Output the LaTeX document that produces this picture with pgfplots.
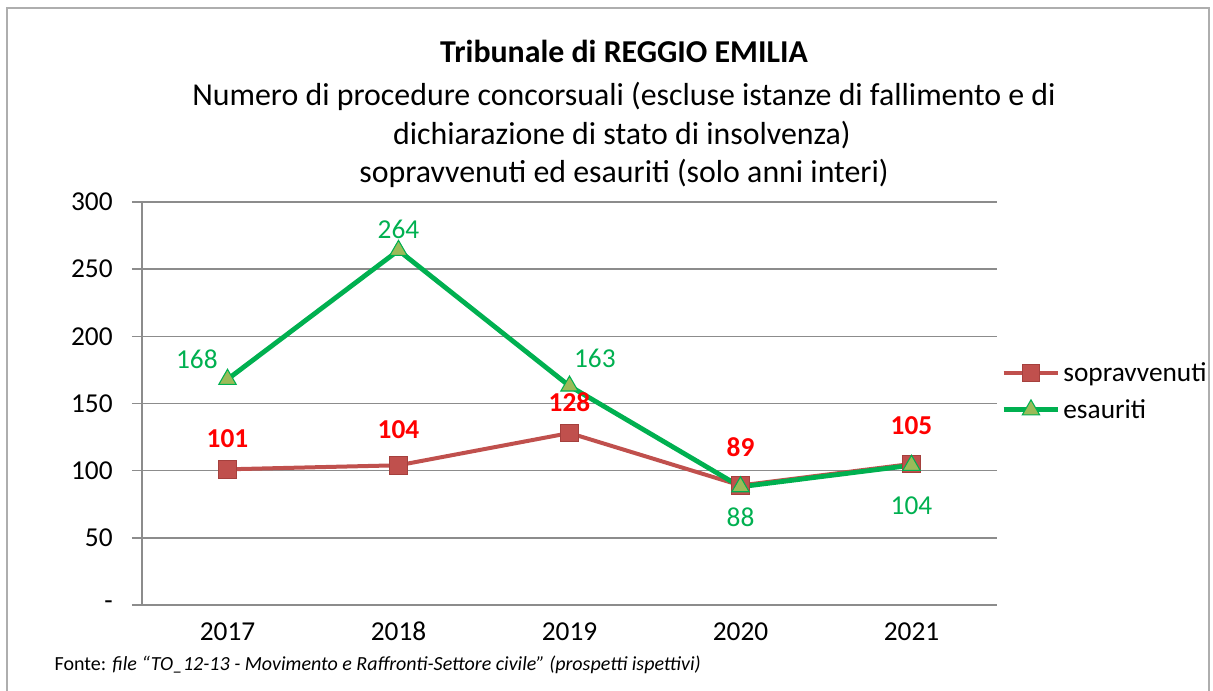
\documentclass[border=0pt]{standalone}
\usepackage{fontspec}
\setmainfont{Carlito}
\usepackage{pgfplots}
\pgfplotsset{compat=1.18}
\definecolor{sopr}{HTML}{C0504D}
\definecolor{soprdark}{HTML}{A5403D}
\definecolor{esau}{HTML}{00B050}
\definecolor{esaufill}{HTML}{9BBB59}
\definecolor{gridc}{HTML}{8C8C8C}
% coordinates in image pixels, y measured upwards from the bottom edge
\begin{document}
\begin{tikzpicture}[x=0.75pt,y=0.75pt]
\draw[gridc!70,line width=1pt] (7,0) -- (7,683) -- (1209,683) -- (1209,0);
% titles
\node[font=\fontsize{23.9}{28}\selectfont\bfseries] at (624,640) {Tribunale di REGGIO EMILIA};
\node[font=\fontsize{23.9}{28}\selectfont] at (624,595) {Numero di procedure concorsuali (escluse istanze di fallimento e di};
\node[font=\fontsize{23.9}{28}\selectfont] at (622,556) {dichiarazione di stato di insolvenza)};
\node[font=\fontsize{23.9}{28}\selectfont] at (624,518) {sopravvenuti ed esauriti (solo anni interi)};
\node[anchor=west,font=\fontsize{15}{18}\selectfont] at (50,26) {Fonte: \textit{file ``TO\_12-13 - Movimento e Raffronti-Settore civile'' (prospetti ispettivi)}};
\begin{axis}[
  at={(106.5pt,64.5pt)}, anchor=south west,
  scale only axis, width=641.25pt, height=302.25pt,
  xmin=-0.5, xmax=4.5, ymin=0, ymax=300,
  xtick={0,1,2,3,4},
  xticklabels={2017,2018,2019,2020,2021},
  extra x ticks={-0.5,0.5,1.5,2.5,3.5,4.5},
  extra x tick labels={},
  extra x tick style={major tick length=7.5pt, tick style={gridc, line width=1pt}},
  ytick={0,50,100,150,200,250,300},
  yticklabels={-,50,100,150,200,250,300},
  ymajorgrids,
  grid style={gridc, line width=1.1pt},
  axis x line*=bottom, axis y line*=left,
  axis line style={gridc, line width=1.1pt, -},
  x tick style={draw=none},
  y tick style={gridc, line width=1.1pt},
  tick align=outside, major tick length=7.5pt,
  /pgf/number format/assume math mode=true,
  tick label style={font=\fontsize{20.5}{24}\selectfont},
  xticklabel style={yshift=-8pt, text height=1.6ex, text depth=0pt},
  yticklabel style={xshift=-11pt},
  clip=false,
  legend style={at={(1.0,0.53)}, anchor=west, draw=none, fill=none,
    font=\fontsize{20.5}{24}\selectfont, row sep=8pt,
    legend cell align=left},
  legend image code/.code={\draw[mark repeat=2,mark phase=2] plot coordinates {(0cm,0cm) (0.72cm,0cm) (1.44cm,0cm)};},
]
\addplot[sopr, line width=3pt, mark=square*, mark size=6.5pt,
  mark options={fill=sopr, draw=soprdark, line width=0.6pt}]
  coordinates {(0,101) (1,104) (2,128) (3,89) (4,105)};
\addlegendentry{sopravvenuti}
\addplot[esau, line width=3.6pt, mark=triangle*, mark size=7.5pt,
  mark options={fill=esaufill, draw=esau, line width=0.8pt}]
  coordinates {(0,168) (1,264) (2,163) (3,88) (4,104)};
\addlegendentry{esauriti}
% data labels
\begin{scope}[font=\fontsize{20.5}{24}\selectfont\bfseries, text=red]
\node at (axis cs:0,101) [yshift=23pt] {101};
\node at (axis cs:1,104) [yshift=27pt] {104};
\node at (axis cs:2,128) [yshift=23pt] {128};
\node at (axis cs:3,89) [yshift=29pt] {89};
\node at (axis cs:4,105) [yshift=29pt] {105};
\end{scope}
\begin{scope}[font=\fontsize{20.5}{24}\selectfont, text=esau]
\node at (axis cs:0,168) [xshift=-23pt, yshift=15pt] {168};
\node at (axis cs:1,264) [yshift=16pt] {264};
\node at (axis cs:2,163) [xshift=19pt, yshift=21pt] {163};
\node at (axis cs:3,88) [yshift=-23pt] {88};
\node at (axis cs:4,104) [yshift=-30pt] {104};
\end{scope}
\end{axis}
\pgfresetboundingbox
\path (0,0) rectangle (1213,691);
\end{tikzpicture}
\end{document}
